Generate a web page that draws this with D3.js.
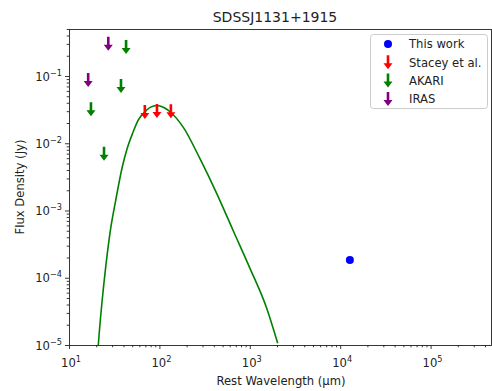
<!DOCTYPE html>
<html>
<head>
<meta charset="utf-8">
<script src="https://cdn.jsdelivr.net/npm/d3@7"></script>
<style>
  body { margin: 0; background: #fff; }
  svg { display: block; font-family: "DejaVu Sans", sans-serif; }
</style>
</head>
<body>
<svg id="chart" width="492" height="391"></svg>
<script>
// values (upper limits = arrow tops)
const thisWorkWave = [1.28e4];
const thisWorkFlux = [1.84e-4];
const staceyWave = [69, 94, 134];
const staceyFlux = [0.037, 0.0384, 0.038];
const akariWave = [17.5, 24.4, 37.6, 42.8];
const akariFlux = [0.0406, 0.0089, 0.09, 0.343];
const irasWave = [16.3, 27.2];
const irasFlux = [0.111, 0.384];
const modelWave = [21.1, 21.6, 23.3, 25.5, 28.4, 32.9, 38.9, 43.5, 50.7, 58.5, 72.4, 80, 93.4,
  112, 131, 184, 281, 430, 656, 1005, 1538, 2036];
const modelFlux = [1e-5, 1.51e-5, 4.67e-5, 1.46e-4, 4.62e-4, 1.43e-3, 4.48e-3, 7.94e-3, 0.0142,
  0.0222, 0.0312, 0.0345, 0.0365, 0.034, 0.0294, 0.0172, 5.9e-3, 1.80e-3, 5.0e-4, 1.38e-4,
  3.52e-5, 1.06e-5];
const xMajor = [1e1, 1e2, 1e3, 1e4, 1e5];
const yMajor = [1e-5, 1e-4, 1e-3, 1e-2, 1e-1];

const mLeft = 69, mRight = 491, mTop = 29, mBottom = 345;
const svg = d3.select("#chart");

const x = d3.scaleLog().domain([10, 4.66e5]).range([mLeft, mRight]);
const y = d3.scaleLog().domain([1e-5, 0.5]).range([mBottom, mTop]);

const minorTicks = (domain) => {
  const out = [];
  const lo = Math.floor(Math.log10(domain[0])), hi = Math.ceil(Math.log10(domain[1]));
  for (let e = lo; e < hi; e++) {
    for (let m = 2; m <= 9; m++) {
      const v = m * Math.pow(10, e);
      if (v >= domain[0] && v <= domain[1]) out.push(v);
    }
  }
  return out;
};

// clip
svg.append("clipPath").attr("id", "clip")
  .append("rect").attr("x", mLeft).attr("y", mTop)
  .attr("width", mRight - mLeft).attr("height", mBottom - mTop);

const plot = svg.append("g").attr("clip-path", "url(#clip)");

// model curve
const pts = modelWave.map((w, i) => [w, modelFlux[i]]);
plot.append("path")
  .datum(pts)
  .attr("fill", "none")
  .attr("stroke", "green")
  .attr("stroke-width", 1.6)
  .attr("d", d3.line().x(d => x(d[0])).y(d => y(d[1])).curve(d3.curveMonotoneX));

// arrow marker drawn downward from (cx, cy)
const arrowPath = (cx, cy, len) => {
  const hw = 4.5, hh = 6, sw = 1.3;
  return `M${cx - sw},${cy} L${cx + sw},${cy} L${cx + sw},${cy + len - hh} ` +
    `L${cx + hw},${cy + len - hh} L${cx},${cy + len} L${cx - hw},${cy + len - hh} ` +
    `L${cx - sw},${cy + len - hh} Z`;
};

const drawLimits = (waves, fluxes, color) => {
  plot.selectAll(null)
    .data(waves.map((w, i) => [w, fluxes[i]]))
    .enter()
    .append("path")
    .attr("d", d => arrowPath(x(d[0]), y(d[1]), 14))
    .attr("fill", color);
};
drawLimits(staceyWave, staceyFlux, "red");
drawLimits(akariWave, akariFlux, "green");
drawLimits(irasWave, irasFlux, "purple");

plot.selectAll(null)
  .data(thisWorkWave.map((w, i) => [w, thisWorkFlux[i]]))
  .enter()
  .append("circle")
  .attr("cx", d => x(d[0]))
  .attr("cy", d => y(d[1]))
  .attr("r", 4)
  .attr("fill", "blue");

// axes
const xAxis = svg.append("g").attr("transform", `translate(0,${mBottom})`)
  .call(d3.axisBottom(x).tickValues(xMajor).tickSize(4).tickFormat(() => ""));
const xMinor = svg.append("g").attr("transform", `translate(0,${mBottom})`)
  .call(d3.axisBottom(x).tickValues(minorTicks(x.domain())).tickSize(2.3).tickFormat(() => ""));
const yAxis = svg.append("g").attr("transform", `translate(${mLeft},0)`)
  .call(d3.axisLeft(y).tickValues(yMajor).tickSize(4).tickFormat(() => ""));
const yMinor = svg.append("g").attr("transform", `translate(${mLeft},0)`)
  .call(d3.axisLeft(y).tickValues(minorTicks(y.domain())).tickSize(2.3).tickFormat(() => ""));

[xAxis, xMinor, yAxis, yMinor].forEach(g => {
  g.select(".domain").remove();
  g.selectAll("line").attr("stroke", "#222").attr("stroke-width", 0.9);
});

const expLabel = (g, exp, anchor) => {
  const t = g.append("text").attr("fill", "#222").attr("font-size", 11.6).attr("text-anchor", anchor);
  t.append("tspan").text("10");
  t.append("tspan").attr("font-size", 8.2).attr("dy", -5).text(exp < 0 ? "\u2212" + (-exp) : String(exp));
  return t;
};

xMajor.forEach(v => {
  const g = svg.append("g").attr("transform", `translate(${x(v) + 2},${mBottom + 22})`);
  expLabel(g, Math.round(Math.log10(v)), "middle");
});
yMajor.forEach(v => {
  const g = svg.append("g").attr("transform", `translate(${mLeft - 7},${y(v) + 4.5})`);
  expLabel(g, Math.round(Math.log10(v)), "end");
});

// spines
svg.append("rect")
  .attr("x", mLeft + 0.5).attr("y", mTop + 0.5)
  .attr("width", mRight - mLeft).attr("height", mBottom - mTop)
  .attr("fill", "none").attr("stroke", "#222").attr("stroke-width", 0.9);

// labels
svg.append("text").attr("x", 281).attr("y", 385).attr("text-anchor", "middle")
  .attr("font-size", 11.6).attr("fill", "#222").text("Rest Wavelength (\u00b5m)");
svg.append("text").attr("transform", `translate(24,${(mTop + mBottom) / 2}) rotate(-90)`)
  .attr("text-anchor", "middle").attr("font-size", 11.6).attr("fill", "#222").text("Flux Density (Jy)");
svg.append("text").attr("x", 275).attr("y", 22).attr("text-anchor", "middle")
  .attr("font-size", 14).attr("fill", "#222").text("SDSSJ1131+1915");

// legend
const legendItems = [
  { label: "This work", color: "blue", kind: "dot" },
  { label: "Stacey et al.", color: "red", kind: "arrow" },
  { label: "AKARI", color: "green", kind: "arrow" },
  { label: "IRAS", color: "purple", kind: "arrow" }
];
const lg = svg.append("g");
lg.append("rect").attr("x", 370.5).attr("y", 34.5).attr("width", 117).attr("height", 74)
  .attr("rx", 3).attr("fill", "#fff").attr("fill-opacity", 0.8)
  .attr("stroke", "#ccc").attr("stroke-width", 1);
legendItems.forEach((d, i) => {
  const cy = 44 + i * 18.3;
  if (d.kind === "dot") {
    lg.append("circle").attr("cx", 388).attr("cy", cy).attr("r", 4).attr("fill", d.color);
  } else {
    lg.append("path").attr("d", arrowPath(388, cy - 7, 14)).attr("fill", d.color);
  }
  lg.append("text").attr("x", 409).attr("y", cy + 4.2).attr("font-size", 11.6)
    .attr("fill", "#222").text(d.label);
});
</script>
</body>
</html>
